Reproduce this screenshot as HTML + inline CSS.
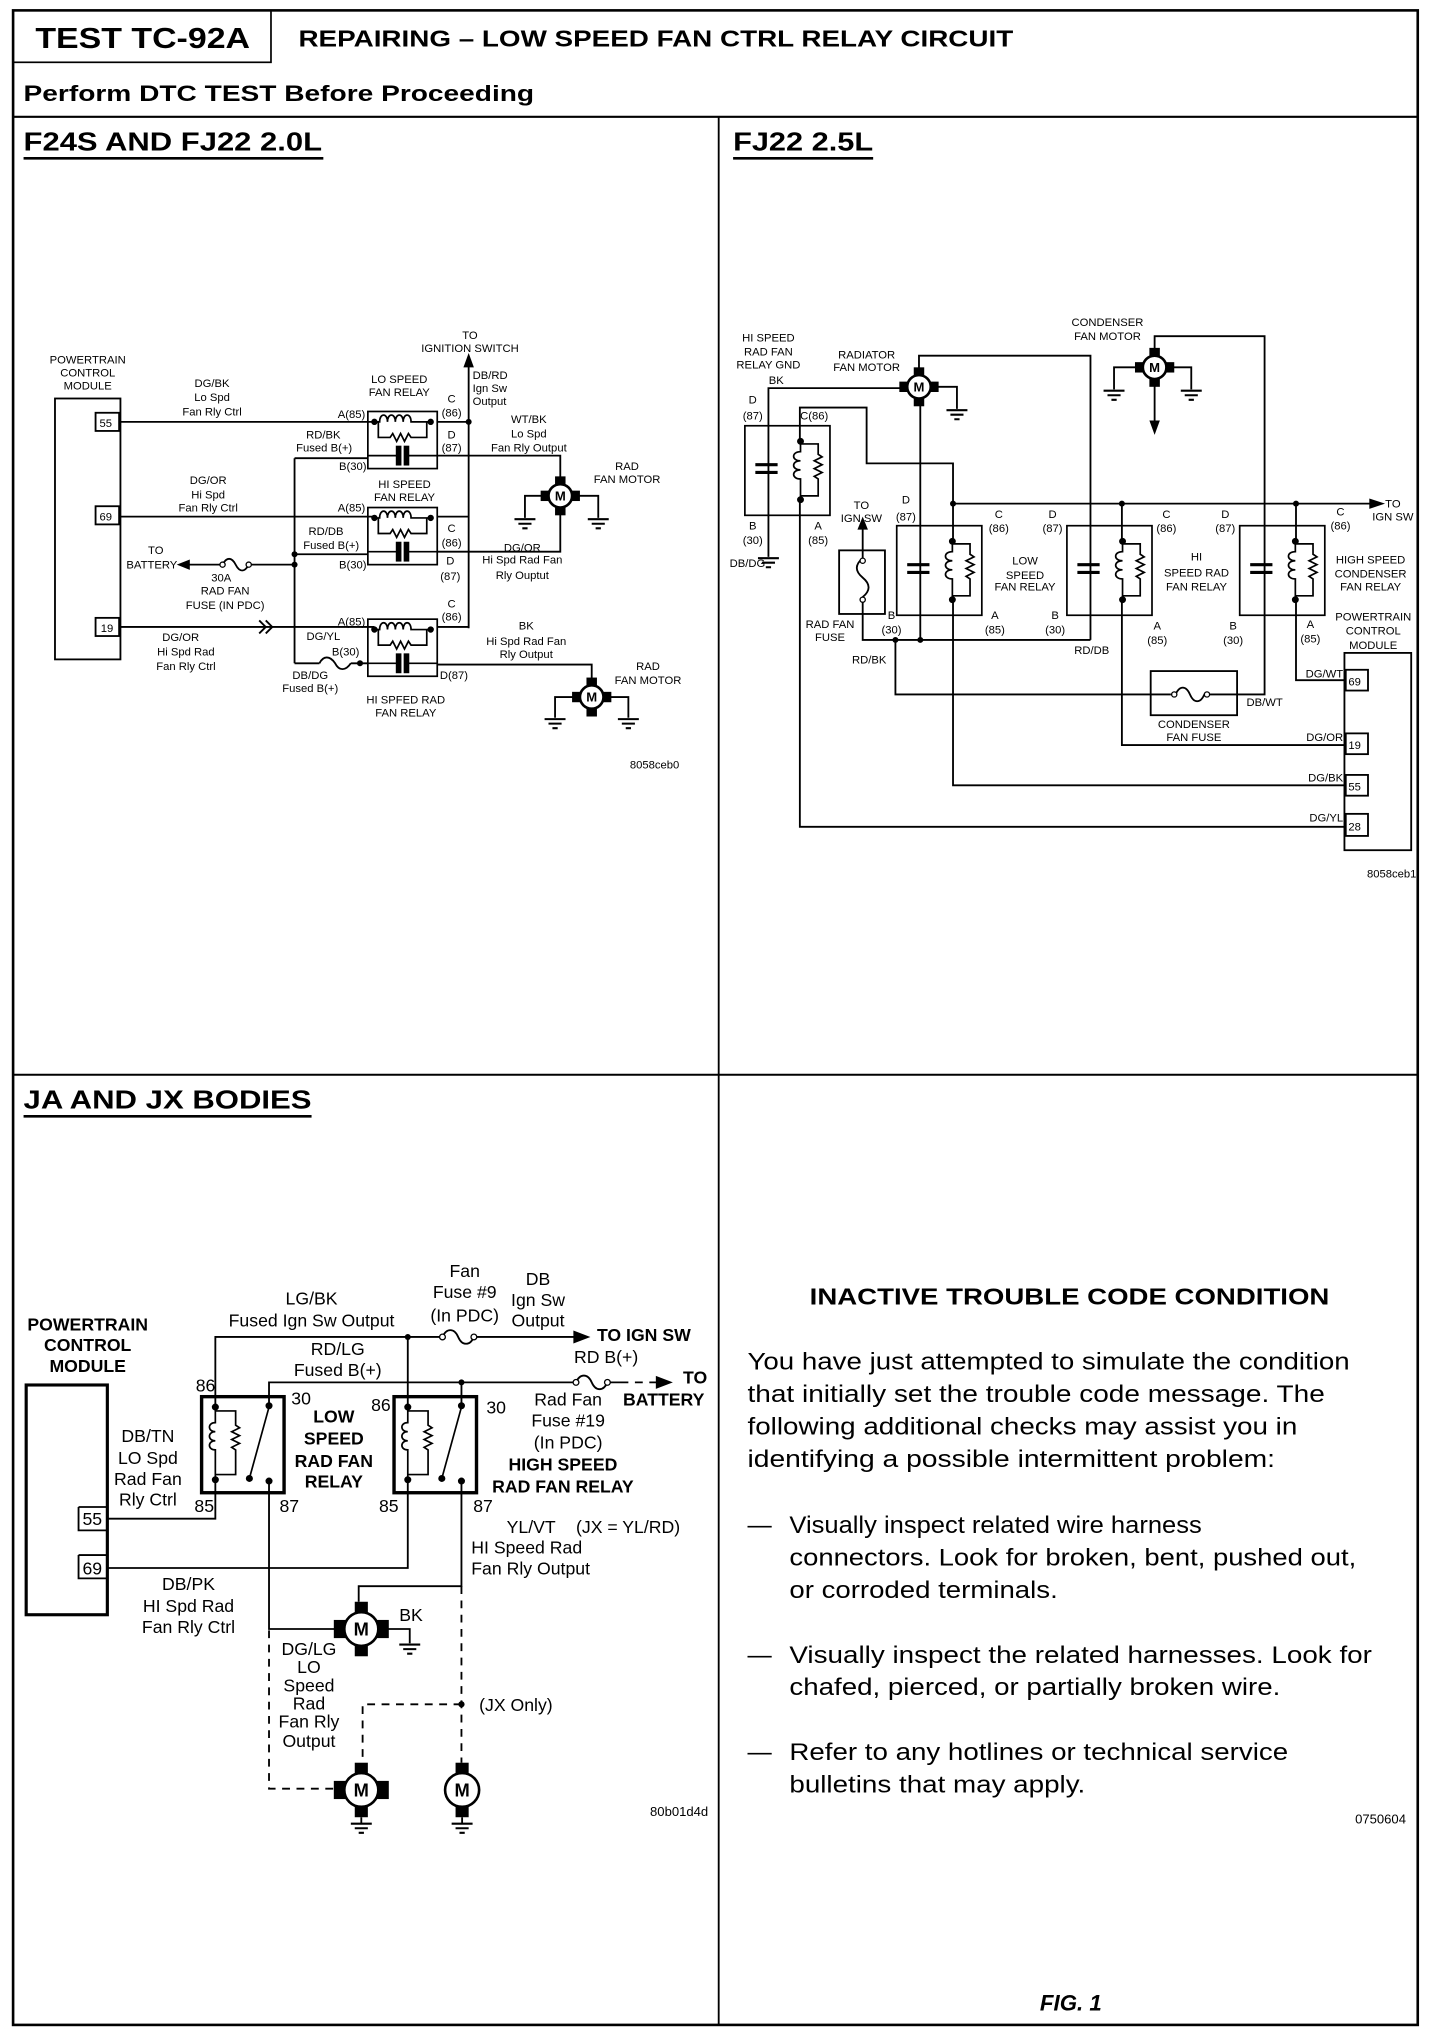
<!DOCTYPE html>
<html><head><meta charset="utf-8"><style>
html,body{margin:0;padding:0;background:#fff}
svg{display:block}
text{font-family:"Liberation Sans",Arial,sans-serif;fill:#000}
.s{font-size:8.6px}
.sc{font-size:8.6px;text-anchor:middle}
.m{font-size:13.5px}
.mc{font-size:13.5px;text-anchor:middle}
.b{font-weight:bold}
.w{fill:none;stroke:#000;stroke-width:1.4}
.t{fill:none;stroke:#000;stroke-width:2.4}
.d{fill:none;stroke:#000;stroke-width:1.4;stroke-dasharray:6,5}
</style></head><body>
<svg width="1440" height="2034" viewBox="0 0 1100 1567" preserveAspectRatio="none" xmlns="http://www.w3.org/2000/svg">
<defs>
<path id="gnd" d="M-8,0h16M-5,3.5h10M-2,7h4" stroke="#000" stroke-width="1.6" fill="none"/>
<g id="mot">
<rect x="-4" y="-15" width="8" height="8" fill="#000"/><rect x="-4" y="7" width="8" height="8" fill="#000"/>
<rect x="-15" y="-4" width="8" height="8" fill="#000"/><rect x="7" y="-4" width="8" height="8" fill="#000"/>
<circle r="9" fill="#fff" stroke="#000" stroke-width="2"/>
<text x="0" y="3.5" style="font-size:10px;font-weight:bold;text-anchor:middle">M</text>
</g>
<g id="motB">
<rect x="-5" y="-21" width="10" height="10" fill="#000"/><rect x="-5" y="11" width="10" height="10" fill="#000"/>
<rect x="-21" y="-7" width="10" height="14" fill="#000"/><rect x="11" y="-7" width="10" height="14" fill="#000"/>
<circle r="13" fill="#fff" stroke="#000" stroke-width="2"/>
<text x="0" y="5" style="font-size:14px;font-weight:bold;text-anchor:middle">M</text>
</g>
<g id="motS">
<rect x="-5" y="-21" width="10" height="10" fill="#000"/><rect x="-5" y="11" width="10" height="10" fill="#000"/>
<circle r="13" fill="#fff" stroke="#000" stroke-width="2"/>
<text x="0" y="5" style="font-size:14px;font-weight:bold;text-anchor:middle">M</text>
</g>
<!-- horizontal relay (top-left) 53x44 -->
<g id="hrel" fill="none" stroke="#000" stroke-width="1.3">
<rect x="0" y="0" width="53" height="44"/>
<path d="M4,8 h5 c0,-7 6,-7 6,0 c0,-7 6,-7 6,0 c0,-7 6,-7 6,0 c0,-7 6,-7 6,0 h14"/>
<path d="M8,8 V20 H17 l2,-3 l3,6 l3,-6 l3,6 l3,-6 l2,3 H45 V8"/>
<path d="M0,34 H23 M29,34 H53"/>
<rect x="22" y="27" width="3" height="14" fill="#000"/><rect x="28" y="27" width="3" height="14" fill="#000"/>
<circle cx="5" cy="8" r="1.8" fill="#000"/><circle cx="48" cy="8" r="1.8" fill="#000"/>
</g>
<!-- vertical relay (top-right) 65x69 -->
<g id="vrel" fill="none" stroke="#000" stroke-width="1.3">
<rect x="0" y="0" width="65" height="69"/>
<rect x="8" y="30" width="17" height="6" fill="#fff" stroke="none"/>
<path d="M8,30h17M8,36h17" stroke-width="2.4"/>
<path d="M42.5,12 V20 c-7,0 -7,7 0,7 c-7,0 -7,7 0,7 c-7,0 -7,7 0,7 V57"/>
<path d="M42.5,14 H56 V22 l3,2 l-6,3 l6,3 l-6,3 l6,3 l-6,3 l3,2 V54 H42.5"/>
<circle cx="42.5" cy="12" r="2" fill="#000"/><circle cx="42.5" cy="57" r="2" fill="#000"/>
</g>
<!-- bottom-left relay 63x74 -->
<g id="brel" fill="none" stroke="#000">
<rect x="0" y="0" width="63" height="74" stroke-width="2.6"/>
<path d="M10.5,8 V20 c-6,0 -6,7 0,7 c-6,0 -6,7 0,7 c-6,0 -6,7 0,7 V64" stroke-width="1.3"/>
<path d="M10.5,11 H26 V22 l3,2 l-6,3 l6,3 l-6,3 l6,3 l-6,3 l3,2 V60 H10.5" stroke-width="1.3"/>
<path d="M51.5,8 L36.5,63" stroke-width="1.3"/>
<circle cx="10.5" cy="8" r="2.2" fill="#000"/><circle cx="10.5" cy="64" r="2.2" fill="#000"/>
<circle cx="51.5" cy="7" r="2.2" fill="#000"/><circle cx="51.5" cy="65" r="2.2" fill="#000"/>
<circle cx="36.5" cy="63" r="2.2" fill="#000"/>
</g>
</defs>

<!-- FRAME -->
<rect x="10" y="8" width="1073" height="1552" fill="none" stroke="#000" stroke-width="2"/>
<rect x="10" y="8" width="197" height="40" fill="none" stroke="#000" stroke-width="1.3"/>
<text x="27" y="37" class="b" style="font-size:22px" textLength="164" lengthAdjust="spacingAndGlyphs">TEST TC-92A</text>
<text x="228" y="36" class="b" style="font-size:18px" textLength="546" lengthAdjust="spacingAndGlyphs">REPAIRING – LOW SPEED FAN CTRL RELAY CIRCUIT</text>
<text x="18" y="78" class="b" style="font-size:17px" textLength="390" lengthAdjust="spacingAndGlyphs">Perform DTC TEST Before Proceeding</text>
<line x1="10" y1="90" x2="1083" y2="90" stroke="#000" stroke-width="1.6"/>
<line x1="549" y1="90" x2="549" y2="1560" stroke="#000" stroke-width="1.4"/>
<line x1="10" y1="828" x2="1083" y2="828" stroke="#000" stroke-width="1.6"/>
<text x="18" y="116" class="b" style="font-size:20px" textLength="228" lengthAdjust="spacingAndGlyphs">F24S AND FJ22 2.0L</text>
<line x1="18" y1="122" x2="247" y2="122" stroke="#000" stroke-width="2"/>
<text x="560" y="116" class="b" style="font-size:20px" textLength="107" lengthAdjust="spacingAndGlyphs">FJ22 2.5L</text>
<line x1="560" y1="122" x2="667" y2="122" stroke="#000" stroke-width="2"/>
<text x="18" y="854" class="b" style="font-size:20px" textLength="220" lengthAdjust="spacingAndGlyphs">JA AND JX BODIES</text>
<line x1="18" y1="860" x2="238" y2="860" stroke="#000" stroke-width="2"/>

<!-- ===== TOP LEFT DIAGRAM ===== -->
<rect x="42" y="307" width="50" height="201" class="w"/>
<rect x="73" y="318" width="18" height="14" class="w"/><text x="76" y="329" class="s">55</text>
<rect x="73" y="390" width="18" height="14" class="w"/><text x="76" y="401" class="s">69</text>
<rect x="73" y="476" width="18" height="14" class="w"/><text x="77" y="487" class="s">19</text>
<text x="67" y="280" class="sc">POWERTRAIN</text><text x="67" y="290" class="sc">CONTROL</text><text x="67" y="300" class="sc">MODULE</text>
<use href="#hrel" x="281" y="317"/>
<use href="#hrel" x="281" y="391"/>
<use href="#hrel" x="281" y="477"/>
<path class="w" d="M91,325 H286 M91,398 H286 M91,483 H286"/>
<path class="w" d="M198,478 l5,5 l-5,5 M203,478 l5,5 l-5,5"/>
<path class="w" d="M225,353 V511 M225,353 H281 M225,427 H281 M143,435 H170 M190,435 H225"/>
<path class="w" d="M170,435 c3,-6 7,-6 10,0 c3,6 7,6 10,0"/>
<circle cx="170" cy="435" r="2" fill="#fff" stroke="#000"/><circle cx="190" cy="435" r="2" fill="#fff" stroke="#000"/>
<polygon points="135,435 145,431 145,439" fill="#000"/>
<circle cx="225" cy="435" r="2.3" fill="#000"/><circle cx="225" cy="427" r="2.3" fill="#000"/>
<path class="w" d="M225,511 H244 M244,511 c3,-6 8,-6 12,0 c3,6 8,6 12,0 M268,511 H281"/>
<circle cx="275" cy="511" r="2.3" fill="#000"/>
<path class="w" d="M358,280 V484 M334,325 H358 M334,398 H358 M334,483 H358"/>
<polygon points="358,272 354,283 362,283" fill="#000"/>
<circle cx="358" cy="325" r="2.3" fill="#000"/>
<path class="w" d="M334,351 H428 V368 M334,425 H428 V395"/>
<use href="#mot" x="428" y="382"/>
<path class="w" d="M415,382 H401 V399 M441,382 H457 V399"/>
<use href="#gnd" x="401" y="400"/><use href="#gnd" x="457" y="400"/>
<path class="w" d="M334,512 H452 V523"/>
<use href="#mot" x="452" y="537"/>
<path class="w" d="M439,537 H424 V553 M465,537 H480 V553"/>
<use href="#gnd" x="424" y="554"/><use href="#gnd" x="480" y="554"/>
<text x="359" y="261" class="sc">TO</text><text x="359" y="271" class="sc">IGNITION SWITCH</text>
<text x="162" y="298" class="sc">DG/BK</text><text x="162" y="309" class="sc">Lo Spd</text><text x="162" y="320" class="sc">Fan Rly Ctrl</text>
<text x="305" y="295" class="sc">LO SPEED</text><text x="305" y="305" class="sc">FAN RELAY</text>
<text x="345" y="310" class="sc">C</text><text x="345" y="321" class="sc">(86)</text>
<text x="361" y="292" class="s">DB/RD</text><text x="361" y="302" class="s">Ign Sw</text><text x="361" y="312" class="s">Output</text>
<text x="279" y="322" class="s" text-anchor="end">A(85)</text>
<text x="247" y="338" class="sc">RD/BK</text><text x="269" y="348" class="s" text-anchor="end">Fused B(+)</text>
<text x="345" y="338" class="sc">D</text><text x="345" y="348" class="sc">(87)</text>
<text x="404" y="326" class="sc">WT/BK</text><text x="404" y="337" class="sc">Lo Spd</text><text x="404" y="348" class="sc">Fan Rly Output</text>
<text x="280" y="362" class="s" text-anchor="end">B(30)</text>
<text x="479" y="362" class="sc">RAD</text><text x="479" y="372" class="sc">FAN MOTOR</text>
<text x="159" y="373" class="sc">DG/OR</text><text x="159" y="384" class="sc">Hi Spd</text><text x="159" y="394" class="sc">Fan Rly Ctrl</text>
<text x="309" y="376" class="sc">HI SPEED</text><text x="309" y="386" class="sc">FAN RELAY</text>
<text x="279" y="394" class="s" text-anchor="end">A(85)</text>
<text x="249" y="412" class="sc">RD/DB</text><text x="253" y="423" class="sc">Fused B(+)</text>
<text x="345" y="410" class="sc">C</text><text x="345" y="421" class="sc">(86)</text>
<text x="280" y="438" class="s" text-anchor="end">B(30)</text>
<text x="344" y="435" class="sc">D</text><text x="344" y="447" class="sc">(87)</text>
<text x="119" y="427" class="sc">TO</text><text x="116" y="438" class="sc">BATTERY</text>
<text x="169" y="448" class="sc">30A</text><text x="172" y="458" class="sc">RAD FAN</text><text x="172" y="469" class="sc">FUSE (IN PDC)</text>
<text x="399" y="425" class="sc">DG/OR</text><text x="399" y="434" class="sc">Hi Spd Rad Fan</text><text x="399" y="446" class="sc">Rly Ouptut</text>
<text x="345" y="468" class="sc">C</text><text x="345" y="478" class="sc">(86)</text>
<text x="279" y="482" class="s" text-anchor="end">A(85)</text>
<text x="247" y="493" class="sc">DG/YL</text>
<text x="138" y="494" class="sc">DG/OR</text><text x="142" y="505" class="sc">Hi Spd Rad</text><text x="142" y="516" class="sc">Fan Rly Ctrl</text>
<text x="402" y="485" class="sc">BK</text><text x="402" y="497" class="sc">Hi Spd Rad Fan</text><text x="402" y="507" class="sc">Rly Output</text>
<text x="264" y="505" class="sc">B(30)</text>
<text x="237" y="523" class="sc">DB/DG</text><text x="237" y="533" class="sc">Fused B(+)</text>
<text x="336" y="523" class="s">D(87)</text>
<text x="310" y="542" class="sc">HI SPFED RAD</text><text x="310" y="552" class="sc">FAN RELAY</text>
<text x="495" y="516" class="sc">RAD</text><text x="495" y="527" class="sc">FAN MOTOR</text>
<text x="500" y="592" class="sc">8058ceb0</text>

<!-- ===== TOP RIGHT DIAGRAM ===== -->
<use href="#vrel" x="569" y="328"/>
<use href="#vrel" x="685" y="405"/>
<use href="#vrel" x="815" y="405"/>
<use href="#vrel" x="947" y="405"/>
<rect x="575" y="328" width="20" height="4" fill="none"/>
<!-- HS relay wires -->
<path class="w" d="M587,429 V299 H688"/>
<use href="#gnd" x="587" y="430"/>
<path class="w" d="M611,340 V314 H662 V357 H728 V388"/>
<path class="w" d="M611,385 V637 H1028"/>
<use href="#mot" x="702" y="298"/>
<path class="w" d="M715,298 H731 V315"/><use href="#gnd" x="731" y="316"/>
<path class="w" d="M702,285 V274 H833 V493"/>
<path class="w" d="M703,311 V493"/>
<use href="#mot" x="882" y="283"/>
<path class="w" d="M882,270 V259 H966 V535 H945"/>
<path class="w" d="M869,283 H851 V300 M895,283 H910 V300"/>
<use href="#gnd" x="851" y="301"/><use href="#gnd" x="910" y="301"/>
<path class="w" d="M882,296 V326"/><polygon points="882,335 878,324 886,324" fill="#000"/>
<path class="w" d="M728,388 H1048"/><polygon points="1058,388 1046,384 1046,392" fill="#000"/>
<circle cx="728" cy="388" r="2.3" fill="#000"/><circle cx="857" cy="388" r="2.3" fill="#000"/><circle cx="990" cy="388" r="2.3" fill="#000"/>
<path class="w" d="M728,388 V417 M857,388 V417 M990,388 V417"/>
<path class="w" d="M728,462 V605 H1028 M857,462 V574 H1028 M990,462 V524 H1028"/>
<rect x="641" y="424" width="35" height="49" class="w"/>
<path class="w" d="M659,405 V430 c-6,5 -6,10 0,15 c6,5 6,10 0,15 V493 H833"/>
<circle cx="659" cy="432" r="2" fill="#fff" stroke="#000"/><circle cx="659" cy="462" r="2" fill="#fff" stroke="#000"/>
<polygon points="659,398 655,408 663,408" fill="#000"/>
<circle cx="684" cy="493" r="2.3" fill="#000"/><circle cx="703" cy="493" r="2.3" fill="#000"/>
<path class="w" d="M684,493 V535 H894"/>
<rect x="879" y="517" width="66" height="34" class="w"/>
<path class="w" d="M894,535 H898 c3,-7 8,-7 11,0 c3,7 8,7 11,0 H945"/>
<circle cx="897" cy="535" r="2" fill="#fff" stroke="#000"/><circle cx="922" cy="535" r="2" fill="#fff" stroke="#000"/>
<rect x="1027" y="503" width="51" height="152" class="w"/>
<rect x="1028" y="516" width="17" height="16" class="w"/><text x="1030" y="528" class="s">69</text>
<rect x="1028" y="565" width="17" height="16" class="w"/><text x="1030" y="577" class="s">19</text>
<rect x="1028" y="597" width="17" height="16" class="w"/><text x="1030" y="609" class="s">55</text>
<rect x="1028" y="627" width="17" height="17" class="w"/><text x="1030" y="640" class="s">28</text>
<text x="846" y="251" class="sc">CONDENSER</text><text x="846" y="262" class="sc">FAN MOTOR</text>
<text x="587" y="263" class="sc">HI SPEED</text><text x="587" y="274" class="sc">RAD FAN</text><text x="587" y="284" class="sc">RELAY GND</text><text x="593" y="296" class="sc">BK</text>
<text x="662" y="276" class="sc">RADIATOR</text><text x="662" y="286" class="sc">FAN MOTOR</text>
<text x="575" y="311" class="sc">D</text><text x="575" y="323" class="sc">(87)</text>
<text x="622" y="323" class="sc">C(86)</text>
<text x="575" y="408" class="sc">B</text><text x="575" y="419" class="sc">(30)</text><text x="571" y="437" class="sc">DB/DG</text>
<text x="625" y="408" class="sc">A</text><text x="625" y="419" class="sc">(85)</text>
<text x="658" y="392" class="sc">TO</text><text x="658" y="402" class="sc">IGN SW</text>
<text x="692" y="388" class="sc">D</text><text x="692" y="401" class="sc">(87)</text>
<text x="763" y="399" class="sc">C</text><text x="763" y="410" class="sc">(86)</text>
<text x="783" y="435" class="sc">LOW</text><text x="783" y="446" class="sc">SPEED</text><text x="783" y="455" class="sc">FAN RELAY</text>
<text x="681" y="477" class="sc">B</text><text x="681" y="488" class="sc">(30)</text>
<text x="634" y="484" class="sc">RAD FAN</text><text x="634" y="494" class="sc">FUSE</text>
<text x="760" y="477" class="sc">A</text><text x="760" y="488" class="sc">(85)</text>
<text x="804" y="399" class="sc">D</text><text x="804" y="410" class="sc">(87)</text>
<text x="806" y="477" class="sc">B</text><text x="806" y="488" class="sc">(30)</text>
<text x="664" y="511" class="sc">RD/BK</text><text x="834" y="504" class="sc">RD/DB</text>
<text x="891" y="399" class="sc">C</text><text x="891" y="410" class="sc">(86)</text>
<text x="914" y="432" class="sc">HI</text><text x="914" y="444" class="sc">SPEED RAD</text><text x="914" y="455" class="sc">FAN RELAY</text>
<text x="884" y="485" class="sc">A</text><text x="884" y="496" class="sc">(85)</text>
<text x="936" y="399" class="sc">D</text><text x="936" y="410" class="sc">(87)</text>
<text x="942" y="485" class="sc">B</text><text x="942" y="496" class="sc">(30)</text>
<text x="1024" y="397" class="sc">C</text><text x="1024" y="408" class="sc">(86)</text>
<text x="1064" y="391" class="sc">TO</text><text x="1064" y="401" class="sc">IGN SW</text>
<text x="1047" y="434" class="sc">HIGH SPEED</text><text x="1047" y="445" class="sc">CONDENSER</text><text x="1047" y="455" class="sc">FAN RELAY</text>
<text x="1001" y="484" class="sc">A</text><text x="1001" y="495" class="sc">(85)</text>
<text x="1049" y="478" class="sc">POWERTRAIN</text><text x="1049" y="489" class="sc">CONTROL</text><text x="1049" y="500" class="sc">MODULE</text>
<text x="966" y="544" class="sc">DB/WT</text>
<text x="912" y="561" class="sc">CONDENSER</text><text x="912" y="571" class="sc">FAN FUSE</text>
<text x="1026" y="522" class="s" text-anchor="end">DG/WT</text>
<text x="1026" y="571" class="s" text-anchor="end">DG/OR</text>
<text x="1026" y="602" class="s" text-anchor="end">DG/BK</text>
<text x="1026" y="633" class="s" text-anchor="end">DG/YL</text>
<text x="1082" y="676" class="s" text-anchor="end">8058ceb1</text>

<!-- ===== BOTTOM LEFT DIAGRAM ===== -->
<text x="67" y="1025" class="mc b">POWERTRAIN</text><text x="67" y="1041" class="mc b">CONTROL</text><text x="67" y="1057" class="mc b">MODULE</text>
<rect x="20" y="1067" width="62" height="177" class="t"/>
<path class="w" d="M60,1161 V1179 H81 M60,1161 H81 M60,1198 V1216 H81 M60,1198 H81"/>
<text x="63" y="1175" class="m">55</text><text x="63" y="1213" class="m">69</text>
<use href="#brel" x="154" y="1076"/>
<use href="#brel" x="301" y="1076"/>
<path class="w" d="M82,1170 H164.5 V1140 M82,1208 H311.5 V1140"/>
<path class="w" d="M164.5,1084 V1030 H338"/>
<path class="w" d="M311.5,1030 V1084"/><circle cx="311.5" cy="1030" r="2.3" fill="#000"/>
<path class="w" d="M338,1030 c3,-7 9,-7 12,0 c3,7 9,7 12,0 H440"/>
<circle cx="338" cy="1030" r="2.2" fill="#fff" stroke="#000"/><circle cx="362" cy="1030" r="2.2" fill="#fff" stroke="#000"/>
<polygon points="451,1030 438,1025 438,1035" fill="#000"/>
<path class="w" d="M205.5,1083 V1065 H440"/>
<path class="w" d="M352.5,1065 V1083"/><circle cx="352.5" cy="1065" r="2.3" fill="#000"/>
<path class="w" d="M440,1065 c3,-7 9,-7 12,0 c3,7 9,7 12,0 H474"/>
<circle cx="440" cy="1065" r="2.2" fill="#fff" stroke="#000"/><circle cx="464" cy="1065" r="2.2" fill="#fff" stroke="#000"/>
<path class="d" d="M474,1065 H504"/><polygon points="514,1065 501,1060 501,1070" fill="#000"/>
<path class="w" d="M205.5,1141 V1255 H262"/>
<use href="#motB" x="276" y="1255"/>
<path class="w" d="M289,1255 H313 V1266"/><use href="#gnd" x="313" y="1267"/>
<path class="w" d="M352.5,1141 V1222 H274 V1234"/>
<path class="d" d="M205.5,1256 V1378 H262"/>
<path class="d" d="M352.5,1222 V1358 M352.5,1313 H277 V1358"/>
<circle cx="352.5" cy="1313" r="2.4" fill="#000"/>
<use href="#motB" x="276" y="1379"/>
<use href="#motS" x="353" y="1379"/>
<path class="w" d="M276,1400 V1405 M353,1400 V1405"/>
<use href="#gnd" x="276" y="1405"/><use href="#gnd" x="353" y="1405"/>
<text x="238" y="1005" class="mc">LG/BK</text><text x="238" y="1022" class="mc">Fused Ign Sw Output</text>
<text x="355" y="984" class="mc">Fan</text><text x="355" y="1000" class="mc">Fuse #9</text><text x="355" y="1018" class="mc">(In PDC)</text>
<text x="411" y="990" class="mc">DB</text><text x="411" y="1006" class="mc">Ign Sw</text><text x="411" y="1022" class="mc">Output</text>
<text x="456" y="1033" class="m b">TO IGN SW</text>
<text x="258" y="1044" class="mc">RD/LG</text><text x="258" y="1060" class="mc">Fused B(+)</text>
<text x="463" y="1050" class="mc">RD B(+)</text>
<text x="531" y="1066" class="mc b">TO</text><text x="507" y="1083" class="mc b">BATTERY</text>
<text x="157" y="1072" class="mc">86</text><text x="230" y="1082" class="mc">30</text>
<text x="291" y="1087" class="mc">86</text><text x="379" y="1089" class="mc">30</text>
<text x="255" y="1096" class="mc b">LOW</text><text x="255" y="1113" class="mc b">SPEED</text><text x="255" y="1130" class="mc b">RAD FAN</text><text x="255" y="1146" class="mc b">RELAY</text>
<text x="434" y="1083" class="mc">Rad Fan</text><text x="434" y="1099" class="mc">Fuse #19</text><text x="434" y="1116" class="mc">(In PDC)</text>
<text x="430" y="1133" class="mc b">HIGH SPEED</text><text x="430" y="1150" class="mc b">RAD FAN RELAY</text>
<text x="113" y="1111" class="mc">DB/TN</text><text x="113" y="1128" class="mc">LO Spd</text><text x="113" y="1144" class="mc">Rad Fan</text><text x="113" y="1160" class="mc">Rly Ctrl</text>
<text x="156" y="1165" class="mc">85</text><text x="221" y="1165" class="mc">87</text>
<text x="297" y="1165" class="mc">85</text><text x="369" y="1165" class="mc">87</text>
<text x="387" y="1181" class="m">YL/VT</text><text x="440" y="1181" class="m">(JX = YL/RD)</text>
<text x="360" y="1197" class="m">HI Speed Rad</text><text x="360" y="1213" class="m">Fan Rly Output</text>
<text x="144" y="1225" class="mc">DB/PK</text><text x="144" y="1242" class="mc">HI Spd Rad</text><text x="144" y="1258" class="mc">Fan Rly Ctrl</text>
<text x="314" y="1249" class="mc">BK</text>
<text x="236" y="1275" class="mc">DG/LG</text><text x="236" y="1289" class="mc">LO</text><text x="236" y="1303" class="mc">Speed</text><text x="236" y="1317" class="mc">Rad</text><text x="236" y="1331" class="mc">Fan Rly</text><text x="236" y="1346" class="mc">Output</text>
<text x="366" y="1318" class="m">(JX Only)</text>
<text x="541" y="1399" class="s" text-anchor="end" style="font-size:10px">80b01d4d</text>

<!-- ===== BOTTOM RIGHT TEXT ===== -->
<text x="817" y="1005" class="b" style="font-size:18px;text-anchor:middle" textLength="397" lengthAdjust="spacingAndGlyphs">INACTIVE TROUBLE CODE CONDITION</text>
<g style="font-size:18.5px">
<text x="571" y="1055" textLength="460" lengthAdjust="spacingAndGlyphs">You have just attempted to simulate the condition</text>
<text x="571" y="1080" textLength="441" lengthAdjust="spacingAndGlyphs">that initially set the trouble code message. The</text>
<text x="571" y="1105" textLength="420" lengthAdjust="spacingAndGlyphs">following additional checks may assist you in</text>
<text x="571" y="1130" textLength="403" lengthAdjust="spacingAndGlyphs">identifying a possible intermittent problem:</text>
<text x="571" y="1181">—</text>
<text x="603" y="1181" textLength="315" lengthAdjust="spacingAndGlyphs">Visually inspect related wire harness</text>
<text x="603" y="1206" textLength="433" lengthAdjust="spacingAndGlyphs">connectors. Look for broken, bent, pushed out,</text>
<text x="603" y="1231" textLength="205" lengthAdjust="spacingAndGlyphs">or corroded terminals.</text>
<text x="571" y="1281">—</text>
<text x="603" y="1281" textLength="445" lengthAdjust="spacingAndGlyphs">Visually inspect the related harnesses. Look for</text>
<text x="603" y="1306" textLength="375" lengthAdjust="spacingAndGlyphs">chafed, pierced, or partially broken wire.</text>
<text x="571" y="1356">—</text>
<text x="603" y="1356" textLength="381" lengthAdjust="spacingAndGlyphs">Refer to any hotlines or technical service</text>
<text x="603" y="1381" textLength="226" lengthAdjust="spacingAndGlyphs">bulletins that may apply.</text>
</g>
<text x="1074" y="1405" style="font-size:10px;text-anchor:end">0750604</text>
<text x="818" y="1549" style="font-size:17px;font-weight:bold;font-style:italic;text-anchor:middle">FIG. 1</text>
</svg>
</body></html>
